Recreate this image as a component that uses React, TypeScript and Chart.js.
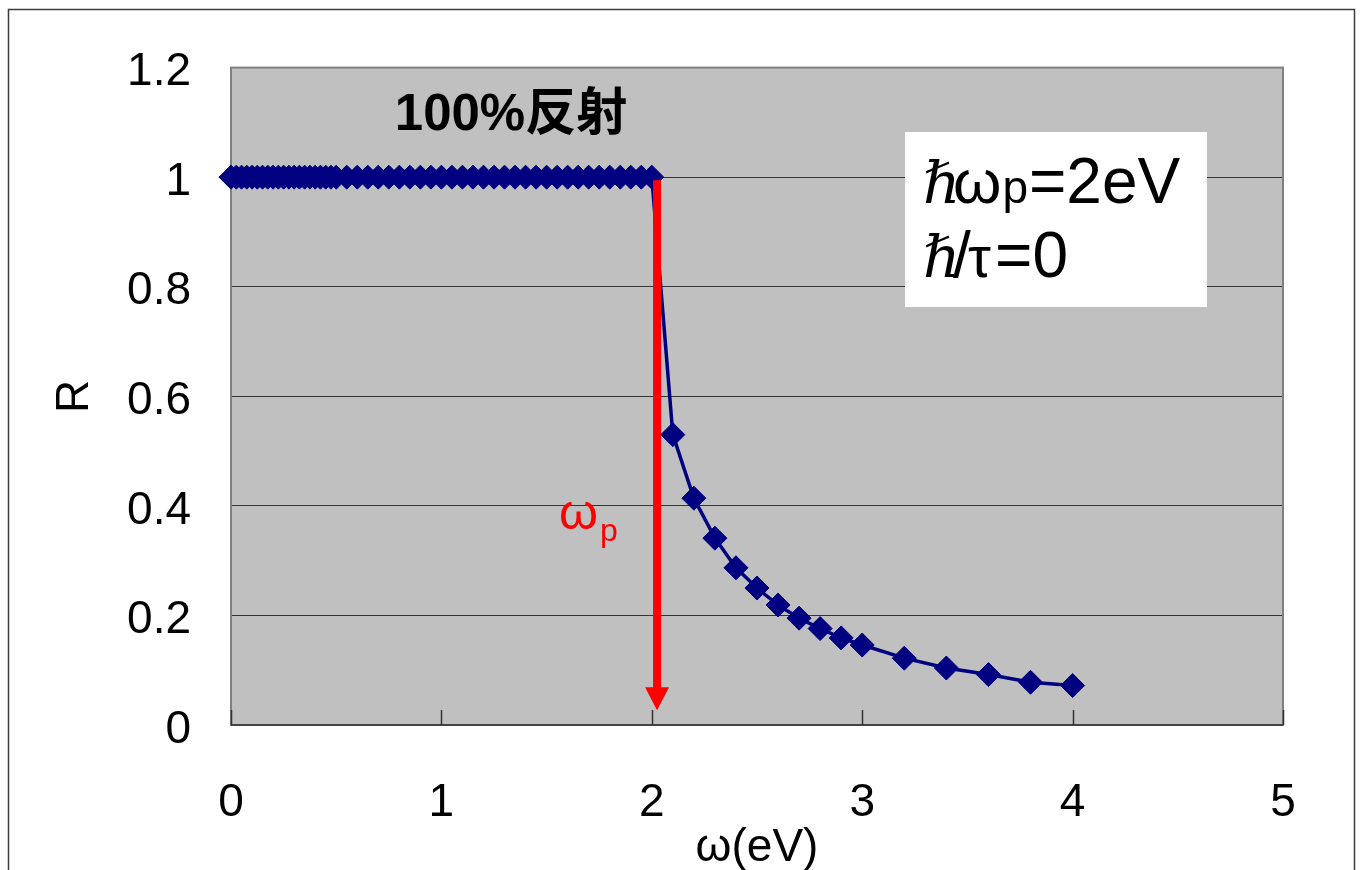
import { useEffect, useRef } from "react";
import { Chart, registerables } from "chart.js";

Chart.register(...registerables);

// photon energy ħω (eV)
const omegaValues = [
  0, 0.025, 0.05, 0.075, 0.1, 0.125, 0.15, 0.175, 0.2, 0.225, 0.25, 0.275, 0.3, 0.325, 0.35, 0.375,
  0.4, 0.425, 0.45, 0.475, 0.5, 0.55, 0.6, 0.65, 0.7, 0.75, 0.8, 0.85, 0.9, 0.95, 1.0, 1.05, 1.1,
  1.15, 1.2, 1.25, 1.3, 1.35, 1.4, 1.45, 1.5, 1.55, 1.6, 1.65, 1.7, 1.75, 1.8, 1.85, 1.9, 1.95, 2.0,
  2.1, 2.2, 2.3, 2.4, 2.5, 2.6, 2.7, 2.8, 2.9, 3.0, 3.2, 3.4, 3.6, 3.8, 4.0,
];

// reflectance R
const reflectance = [
  1, 1, 1, 1, 1, 1, 1, 1, 1, 1, 1, 1, 1, 1, 1, 1,
  1, 1, 1, 1, 1, 1, 1, 1, 1, 1, 1, 1, 1, 1, 1, 1, 1,
  1, 1, 1, 1, 1, 1, 1, 1, 1, 1, 1, 1, 1, 1, 1, 1, 1, 1,
  0.53, 0.414, 0.341, 0.287, 0.25, 0.219, 0.195, 0.176, 0.159, 0.146, 0.122, 0.104, 0.092, 0.078, 0.072,
];

const xTickValues = [0, 1, 2, 3, 4, 5];
const yTickLabels = ["0", "0.2", "0.4", "0.6", "0.8", "1", "1.2"];

// plasma-frequency arrow (data coordinates)
const arrowX = 2.025;
const arrowTop = 1;
const arrowTip = 0.027;

const decorPlugin = {
  id: "decor",
  beforeDraw(chart: any) {
    const { ctx, chartArea: a } = chart;
    ctx.save();
    ctx.fillStyle = "#ffffff";
    ctx.fillRect(0, 0, chart.width, chart.height);
    ctx.strokeStyle = "#3c3c3c";
    ctx.lineWidth = 1.5;
    ctx.strokeRect(8.5, 9.5, 1346, 900);
    ctx.fillStyle = "#c0c0c0";
    ctx.fillRect(a.left, a.top, a.right - a.left, a.bottom - a.top);
    ctx.restore();
  },
  beforeDatasetsDraw(chart: any) {
    const { ctx, chartArea: a, scales } = chart;
    ctx.save();
    ctx.strokeStyle = "#808080";
    ctx.lineWidth = 2;
    ctx.strokeRect(a.left, a.top, a.right - a.left, a.bottom - a.top);
    ctx.strokeStyle = "#303030";
    ctx.lineWidth = 1.5;
    ctx.beginPath();
    ctx.moveTo(a.left, a.bottom);
    ctx.lineTo(a.right, a.bottom);
    for (const v of xTickValues) {
      const px = Math.round(scales.x.getPixelForValue(v)) + 0.5;
      ctx.moveTo(px, a.bottom);
      ctx.lineTo(px, a.bottom - 15);
    }
    ctx.stroke();
    ctx.restore();
  },
  afterDatasetsDraw(chart: any) {
    const { ctx, scales } = chart;
    ctx.save();
    // red arrow
    const ax = scales.x.getPixelForValue(arrowX);
    const ay0 = scales.y.getPixelForValue(arrowTop);
    const ay1 = scales.y.getPixelForValue(arrowTip);
    const headH = 23;
    ctx.fillStyle = "#ff0000";
    ctx.fillRect(ax - 4, ay0 + 3, 8, ay1 - headH - ay0 - 2);
    ctx.beginPath();
    ctx.moveTo(ax - 12, ay1 - headH);
    ctx.lineTo(ax + 12, ay1 - headH);
    ctx.lineTo(ax, ay1);
    ctx.closePath();
    ctx.fill();

    // ω_p label
    ctx.textAlign = "left";
    ctx.textBaseline = "alphabetic";
    ctx.fillStyle = "#ff0000";
    ctx.font = "50px 'Liberation Sans', sans-serif";
    ctx.fillText("ω", 559, 529);
    const wW = ctx.measureText("ω").width;
    ctx.font = "32px 'Liberation Sans', sans-serif";
    ctx.fillText("p", 559 + wW + 2, 541);

    // 100%反射
    ctx.fillStyle = "#000000";
    ctx.textAlign = "center";
    ctx.font = "bold 51px 'Liberation Sans', 'Noto Sans CJK JP', sans-serif";
    ctx.fillText("100%反射", 511, 130);

    // parameter box
    ctx.fillStyle = "#ffffff";
    ctx.fillRect(905, 132, 302, 175);
    ctx.fillStyle = "#000000";
    ctx.textAlign = "left";
    ctx.font = "italic 58px 'DejaVu Serif', 'Liberation Serif', serif";
    ctx.fillText("ℏ", 923, 203);
    ctx.fillText("ℏ", 923, 277);
    ctx.font = "62px 'Liberation Sans', sans-serif";
    ctx.fillText("ω", 953, 203);
    const w2 = ctx.measureText("ω").width;
    ctx.font = "46px 'Liberation Sans', sans-serif";
    ctx.fillText("p", 953 + w2 + 1, 203);
    const pW = ctx.measureText("p").width;
    ctx.font = "64px 'Liberation Sans', sans-serif";
    ctx.fillText("=2eV", 953 + w2 + 1 + pW + 1, 203);
    ctx.fillText("/", 953, 277);
    ctx.font = "58px 'Liberation Sans', sans-serif";
    ctx.fillText("τ", 968, 277);
    ctx.font = "64px 'Liberation Sans', sans-serif";
    ctx.fillText("=0", 995, 277);
    ctx.restore();
  },
};

export default function App() {
  const canvasRef = useRef<HTMLCanvasElement | null>(null);

  useEffect(() => {
    const canvas = canvasRef.current;
    if (!canvas) return;
    const chart = new Chart(canvas, {
      type: "line",
      data: {
        datasets: [
          {
            data: omegaValues.map((x, i) => ({ x, y: reflectance[i] })),
            borderColor: "#000080",
            backgroundColor: "#000080",
            borderWidth: 3.5,
            pointStyle: "rectRot",
            pointRadius: 12,
            pointBorderWidth: 1,
            pointBorderColor: "#000080",
            pointBackgroundColor: "#000080",
            tension: 0,
            clip: false,
          } as any,
        ],
      },
      options: {
        responsive: false,
        animation: false,
        devicePixelRatio: 1,
        layout: { padding: { top: 62, right: 80, left: 0, bottom: 0 } },
        plugins: { legend: { display: false }, tooltip: { enabled: false } },
        scales: {
          x: {
            type: "linear",
            min: 0,
            max: 5,
            afterFit: (s: any) => {
              s.height = 145;
            },
            grid: { display: false, drawTicks: false },
            border: { display: false },
            ticks: {
              stepSize: 1,
              padding: 51,
              color: "#000000",
              font: { family: "'Liberation Sans', sans-serif", size: 46 },
            },
            title: {
              display: true,
              text: "ω(eV)",
              color: "#000000",
              font: { family: "'Liberation Sans', sans-serif", size: 46 },
              padding: { top: 0, bottom: -6 },
            },
          },
          y: {
            type: "linear",
            min: 0,
            max: 1.2,
            afterFit: (s: any) => {
              s.width = 231;
            },
            grid: { display: true, drawTicks: false, color: "#333333", lineWidth: 1 },
            border: { display: false },
            ticks: {
              stepSize: 0.2,
              padding: 40,
              labelOffset: 5,
              color: "#000000",
              font: { family: "'Liberation Sans', sans-serif", size: 46 },
              callback: (_v: any, i: number) => yTickLabels[i],
            },
            title: {
              display: true,
              text: "R",
              color: "#000000",
              font: { family: "'Liberation Sans', sans-serif", size: 46 },
              padding: { top: 48, bottom: 0 },
            },
          },
        },
      },
      plugins: [decorPlugin],
    });
    return () => chart.destroy();
  }, []);

  return (
    <div style={{ position: "fixed", left: 0, top: 0, width: 1363, height: 870, background: "#fff" }}>
      <canvas ref={canvasRef} width={1363} height={870} style={{ display: "block" }} />
    </div>
  );
}
